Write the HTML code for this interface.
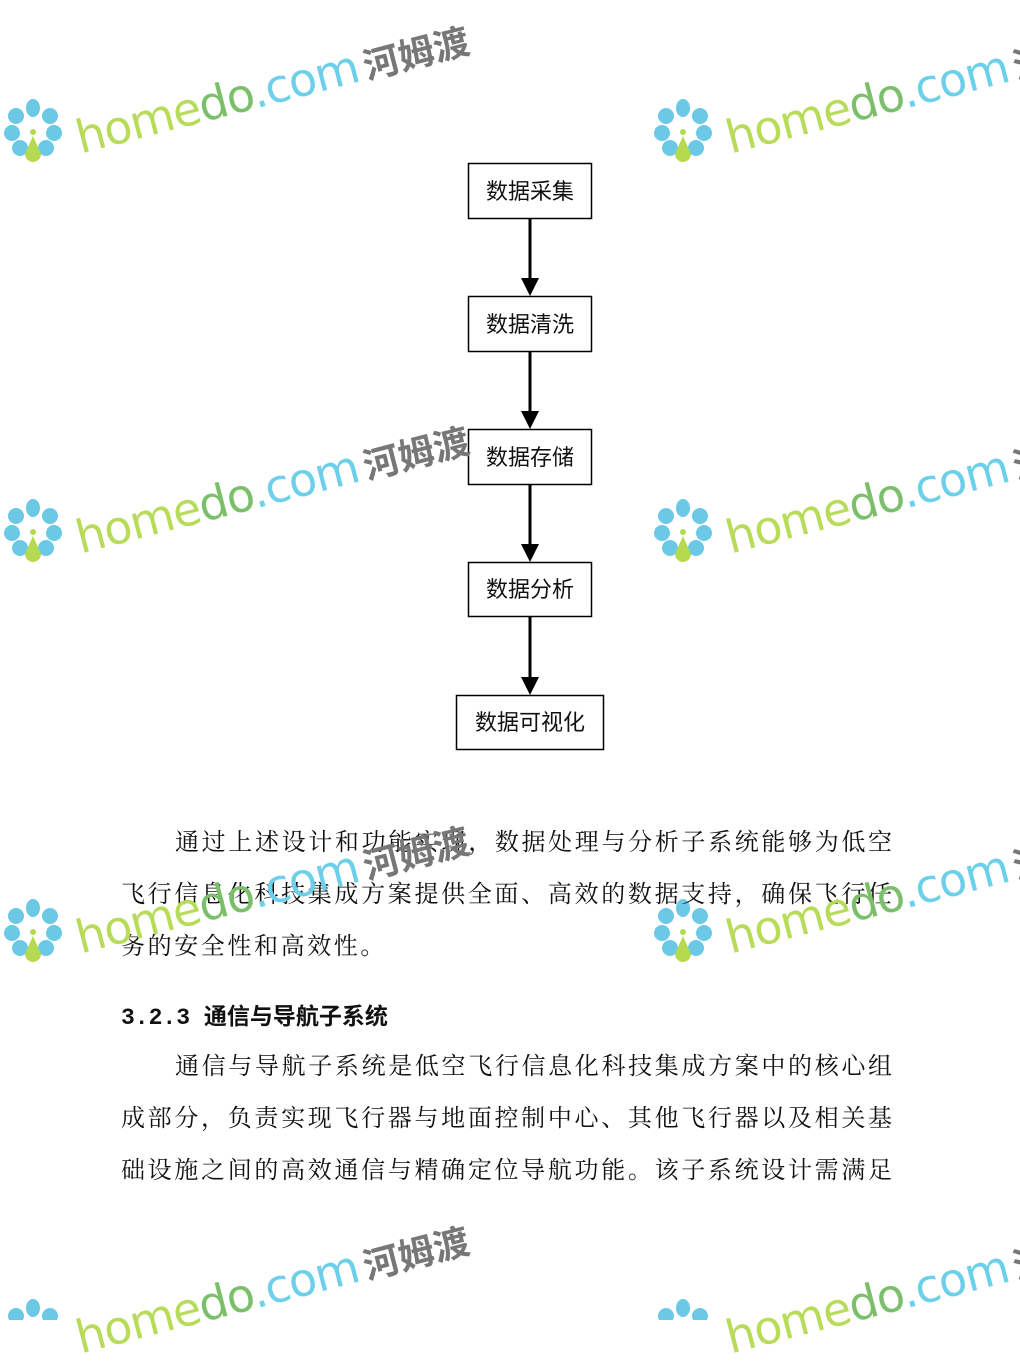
<!DOCTYPE html>
<html><head><meta charset="utf-8"><style>
body{margin:0;width:1020px;height:1320px;background:#fff;position:relative;overflow:hidden;font-family:"Liberation Serif","Noto Serif CJK SC",serif;}
.l{position:absolute;left:121px;width:771px;font-size:24px;color:#111;white-space:nowrap;line-height:30px;text-align:justify;text-align-last:justify}
.wm{position:absolute;transform-origin:0 0;transform:rotate(-14.5deg);white-space:nowrap;font-family:"DejaVu Sans","Noto Sans CJK SC",sans-serif;font-size:46px;font-weight:normal;letter-spacing:-1px}
.wm b{color:#777;font-size:36px;font-weight:bold;letter-spacing:0;margin-left:6px}
</style></head><body>
<svg width="1020" height="1320" style="position:absolute;left:0;top:0">
<defs>
<g id="fl"><ellipse cx="0" cy="-20" rx="7" ry="9" fill="#6cc9e6"/><circle cx="17" cy="-12" r="8" fill="#6cc9e6"/><circle cx="21" cy="5" r="8" fill="#6cc9e6"/><circle cx="-17" cy="-12" r="8" fill="#6cc9e6"/><circle cx="-21" cy="5" r="8" fill="#6cc9e6"/><circle cx="-13" cy="20" r="8" fill="#6cc9e6"/><circle cx="13" cy="20" r="8" fill="#6cc9e6"/><path d="M0,8 L8,26 A8,8 0 0 1 -8,26 Z" fill="#b5d94f"/><circle cx="0" cy="4" r="3" fill="#b5d94f"/></g></defs>
<g font-family="Liberation Sans,Noto Sans CJK SC,sans-serif" font-size="22" text-anchor="middle" fill="#111">
<rect x="468.5" y="163.5" width="123" height="55" fill="#fff" stroke="#000" stroke-width="1.5"/><text x="530" y="199">数据采集</text>
<rect x="468.5" y="296.5" width="123" height="55" fill="#fff" stroke="#000" stroke-width="1.5"/><text x="530" y="332">数据清洗</text>
<rect x="468.5" y="429.5" width="123" height="55" fill="#fff" stroke="#000" stroke-width="1.5"/><text x="530" y="465">数据存储</text>
<rect x="468.5" y="562.5" width="123" height="54" fill="#fff" stroke="#000" stroke-width="1.5"/><text x="530" y="597">数据分析</text>
<rect x="456.5" y="695.5" width="147" height="54" fill="#fff" stroke="#000" stroke-width="1.5"/><text x="530" y="730">数据可视化</text>
</g>
<g stroke="#000" stroke-width="3">
<line x1="530" y1="219" x2="530" y2="280"/><line x1="530" y1="352" x2="530" y2="413"/><line x1="530" y1="485" x2="530" y2="546"/><line x1="530" y1="617" x2="530" y2="679"/>
</g>
<g fill="#000">
<path d="M521,278 L539,278 L530,296 Z"/><path d="M521,411 L539,411 L530,429 Z"/><path d="M521,544 L539,544 L530,562 Z"/><path d="M521,677 L539,677 L530,695 Z"/>
</g>
<use href="#fl" x="33" y="128"/><use href="#fl" x="683" y="128"/>
<use href="#fl" x="33" y="528"/><use href="#fl" x="683" y="528"/>
<use href="#fl" x="33" y="928"/><use href="#fl" x="683" y="928"/>
<use href="#fl" x="33" y="1328"/><use href="#fl" x="683" y="1328"/>
</svg>
<div class="l" style="left:175px;width:717px;top:828px">通过上述设计和功能实现，数据处理与分析子系统能够为低空</div>
<div class="l" style="top:880px">飞行信息化科技集成方案提供全面、高效的数据支持，确保飞行任</div>
<div class="l" style="top:932px;width:auto;text-align:left;text-align-last:auto;letter-spacing:2.6px">务的安全性和高效性。</div>
<div class="l" style="top:1003px;width:auto;text-align:left;text-align-last:auto;font-size:23px;font-weight:bold;font-family:'Liberation Mono','Noto Sans CJK SC',monospace;letter-spacing:0">3.2.3 通信与导航子系统</div>
<div class="l" style="left:175px;width:717px;top:1052px">通信与导航子系统是低空飞行信息化科技集成方案中的核心组</div>
<div class="l" style="top:1104px">成部分，负责实现飞行器与地面控制中心、其他飞行器以及相关基</div>
<div class="l" style="top:1156px">础设施之间的高效通信与精确定位导航功能。该子系统设计需满足</div>
<div class="wm" style="left:70px;top:112px"><span style="color:#b8dc5a">home</span><span style="color:#7cbf6a">do</span><span style="color:#6cd0ea">.com</span><b>河姆渡</b></div>
<div class="wm" style="left:720px;top:112px"><span style="color:#b8dc5a">home</span><span style="color:#7cbf6a">do</span><span style="color:#6cd0ea">.com</span><b>河姆渡</b></div>
<div class="wm" style="left:70px;top:512px"><span style="color:#b8dc5a">home</span><span style="color:#7cbf6a">do</span><span style="color:#6cd0ea">.com</span><b>河姆渡</b></div>
<div class="wm" style="left:720px;top:512px"><span style="color:#b8dc5a">home</span><span style="color:#7cbf6a">do</span><span style="color:#6cd0ea">.com</span><b>河姆渡</b></div>
<div class="wm" style="left:70px;top:912px"><span style="color:#b8dc5a">home</span><span style="color:#7cbf6a">do</span><span style="color:#6cd0ea">.com</span><b>河姆渡</b></div>
<div class="wm" style="left:720px;top:912px"><span style="color:#b8dc5a">home</span><span style="color:#7cbf6a">do</span><span style="color:#6cd0ea">.com</span><b>河姆渡</b></div>
<div class="wm" style="left:70px;top:1312px"><span style="color:#b8dc5a">home</span><span style="color:#7cbf6a">do</span><span style="color:#6cd0ea">.com</span><b>河姆渡</b></div>
<div class="wm" style="left:720px;top:1312px"><span style="color:#b8dc5a">home</span><span style="color:#7cbf6a">do</span><span style="color:#6cd0ea">.com</span><b>河姆渡</b></div>
</body></html>
